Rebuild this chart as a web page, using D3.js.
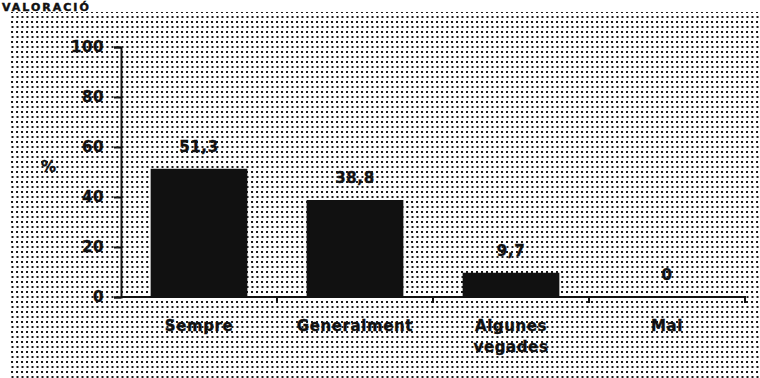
<!DOCTYPE html>
<html>
<head>
<meta charset="utf-8">
<script src="https://cdn.jsdelivr.net/npm/d3@7"></script>
<style>
  html, body { margin: 0; padding: 0; background: #fff; }
  svg { display: block; }
  text { font-family: "DejaVu Sans", sans-serif; font-weight: bold; fill: #111; }
</style>
</head>
<body>
<svg id="chart" width="760" height="378"></svg>
<script>
// Frequency answers (%)
const categories = ["Sempre", "Generalment", "Algunes vegades", "Mai"];
const values = [51.3, 38.8, 9.7, 0];
const valueLabels = ["51,3", "38,8", "9,7", "0"];
const yTicks = [0, 20, 40, 60, 80, 100];
const title = "VALORACIÓ";

const svg = d3.select("#chart");
const W = 760, H = 378;

// halftone-like dotted backdrop
const defs = svg.append("defs");
const pat = defs.append("pattern")
  .attr("id", "dots").attr("patternUnits", "userSpaceOnUse")
  .attr("width", 5).attr("height", 10);
pat.append("rect").attr("x", 1).attr("y", 1).attr("width", 2).attr("height", 2).attr("fill", "#1a1a1a");
pat.append("rect").attr("x", 1.5).attr("y", 6).attr("width", 2).attr("height", 2).attr("fill", "#1a1a1a");

svg.append("rect").attr("x", 9).attr("y", 12).attr("width", W - 9).attr("height", H - 12)
  .attr("fill", "url(#dots)");

// heading
svg.append("text").attr("x", 2).attr("y", 11)
  .style("font-size", "11px").style("font-weight", "900").style("letter-spacing", "2px")
  .attr("stroke", "#111").attr("stroke-width", 0.5)
  .text(title);

const x = d3.scaleBand().domain(categories).range([121, 745])
  .paddingInner(0.38).paddingOuter(0.19);
const y = d3.scaleLinear().domain([0, 100]).range([297, 47]);

const labelStyle = sel => sel.style("font-size", "15px").style("letter-spacing", "0.6px")
  .attr("stroke", "#111").attr("stroke-width", 0.4);

// bars
svg.append("g").selectAll("rect").data(values).join("rect")
  .attr("x", (d, i) => x(categories[i]))
  .attr("y", d => y(d))
  .attr("width", x.bandwidth())
  .attr("height", d => y(0) - y(d))
  .attr("fill", "#111");

// value labels
svg.append("g").selectAll("text").data(values).join("text")
  .attr("x", (d, i) => x(categories[i]) + x.bandwidth() / 2)
  .attr("y", d => y(d) - 17)
  .attr("text-anchor", "middle")
  .call(labelStyle)
  .text((d, i) => valueLabels[i]);

// y axis
const yAxis = d3.axisLeft(y).tickValues(yTicks).tickSize(7).tickPadding(10)
  .tickFormat(d3.format("d"));
const gy = svg.append("g").attr("transform", "translate(121,0)").call(yAxis);
gy.select(".domain").attr("stroke", "#111").attr("stroke-width", 2);
gy.selectAll(".tick line").attr("stroke", "#111").attr("stroke-width", 2);
gy.selectAll(".tick text").call(labelStyle)
  .style("font-family", "DejaVu Sans, sans-serif").attr("fill", "#111");

svg.append("text").attr("x", 41).attr("y", 172).call(labelStyle).text("%");

// x axis with ticks on band boundaries
svg.append("line").attr("x1", 121).attr("x2", 746).attr("y1", 297).attr("y2", 297)
  .attr("stroke", "#111").attr("stroke-width", 2);
const bounds = categories.map(c => x(c) - x.step() * x.paddingInner() / 2).slice(1)
  .concat([745]);
svg.append("g").selectAll("line").data(bounds).join("line")
  .attr("x1", d => d).attr("x2", d => d).attr("y1", 296).attr("y2", 303)
  .attr("stroke", "#111").attr("stroke-width", 2);

// category labels (wrapped)
const xl = svg.append("g").selectAll("text").data(categories).join("text")
  .attr("text-anchor", "middle")
  .attr("x", d => x(d) + x.bandwidth() / 2)
  .attr("y", 331)
  .call(labelStyle);
xl.each(function(d) {
  const words = d.split(" ");
  const t = d3.select(this);
  const cx = t.attr("x");
  words.forEach((w, i) => t.append("tspan").attr("x", cx).attr("dy", i ? 21 : 0).text(w));
});
</script>
</body>
</html>
